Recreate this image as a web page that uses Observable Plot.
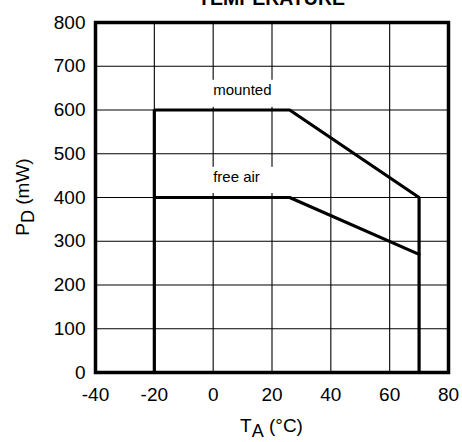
<!DOCTYPE html>
<html>
<head>
<meta charset="utf-8">
<script src="https://cdn.jsdelivr.net/npm/d3@7"></script>
<script src="https://cdn.jsdelivr.net/npm/@observablehq/plot@0.6"></script>
<style>
  html, body { margin: 0; padding: 0; background: white; }
  #wrap { position: relative; width: 462px; height: 442px; overflow: hidden; }
  #title { position: absolute; left: 95px; width: 353px; top: -11px; text-align: center;
           font: bold 19.5px "Liberation Sans", Arial, sans-serif; line-height: 1; z-index: 2; }
</style>
</head>
<body>
<div id="wrap"><div id="title">TEMPERATURE</div></div>
<script>
// Axis ticks
const xTicks = [-40, -20, 0, 20, 40, 60, 80];
const yTicks = [0, 100, 200, 300, 400, 500, 600, 700, 800];
const gridT = [-20, 0, 20, 40, 60];
const gridP = [100, 200, 300, 400, 500, 600, 700];

// Derating curves (TA °C, PD mW)
const mountedT = [-20, -20, 26, 70, 70];
const mountedP = [0, 600, 600, 400, 0];
const freeAirT = [-20, 26, 70];
const freeAirP = [400, 400, 270];

// Curve labels
const labelText = ["mounted", "free air"];
const labelT = [0, 0];
const labelP = [645, 446];
const labelBoxT1 = [-0.7, -0.7];
const labelBoxT2 = [21.2, 21.2];
const labelBoxP1 = [606, 409];
const labelBoxP2 = [668, 469];

const mounted = mountedT.map((t, i) => ({t, p: mountedP[i]}));
const freeAir = freeAirT.map((t, i) => ({t, p: freeAirP[i]}));
const labels = labelText.map((s, i) => ({s, t: labelT[i], p: labelP[i],
  t1: labelBoxT1[i], t2: labelBoxT2[i], p1: labelBoxP1[i], p2: labelBoxP2[i]}));

const chart = Plot.plot({
  width: 462, height: 442,
  marginLeft: 95, marginRight: 14, marginTop: 22, marginBottom: 70,
  style: { fontFamily: "'Liberation Sans', Arial, sans-serif", fontSize: "19px", color: "black", background: "white" },
  x: { domain: [-40, 80], ticks: xTicks, tickFormat: d => String(d), tickSize: 0, tickPadding: 15, label: null },
  y: { domain: [0, 800], ticks: yTicks, tickFormat: d => String(d), tickSize: 0, tickPadding: 10, label: null },
  marks: [
    Plot.ruleX(gridT, { stroke: "black", strokeWidth: 1.1 }),
    Plot.ruleY(gridP, { stroke: "black", strokeWidth: 1.1 }),
    Plot.rect(labels, { x1: "t1", x2: "t2", y1: "p1", y2: "p2", fill: "white" }),
    Plot.text(labels, { x: "t", y: "p", text: "s", textAnchor: "start", fontSize: 15, fill: "black" }),
    Plot.line(mounted, { x: "t", y: "p", stroke: "black", strokeWidth: 3.2, strokeLinejoin: "miter" }),
    Plot.line(freeAir, { x: "t", y: "p", stroke: "black", strokeWidth: 3.2, strokeLinejoin: "miter" }),
    Plot.frame({ stroke: "black", strokeWidth: 3.5 })
  ]
});

const svg = d3.select(chart);
// x-axis label: T_A (°C)
const xl = svg.append("text")
  .attr("x", 271.5).attr("y", 432)
  .attr("text-anchor", "middle")
  .attr("font-size", 19).attr("fill", "black");
xl.append("tspan").text("T");
xl.append("tspan").attr("dy", 5).attr("font-size", 18).text("A");
xl.append("tspan").attr("dy", -5).text(" (°C)");

// y-axis label: P_D (mW)
const yl = svg.append("text")
  .attr("transform", "translate(29,197) rotate(-90)")
  .attr("text-anchor", "middle")
  .attr("font-size", 19).attr("fill", "black");
yl.append("tspan").text("P");
yl.append("tspan").attr("dy", 5).attr("font-size", 18).text("D");
yl.append("tspan").attr("dy", -5).text(" (mW)");

document.getElementById("wrap").appendChild(chart);
</script>
</body>
</html>
